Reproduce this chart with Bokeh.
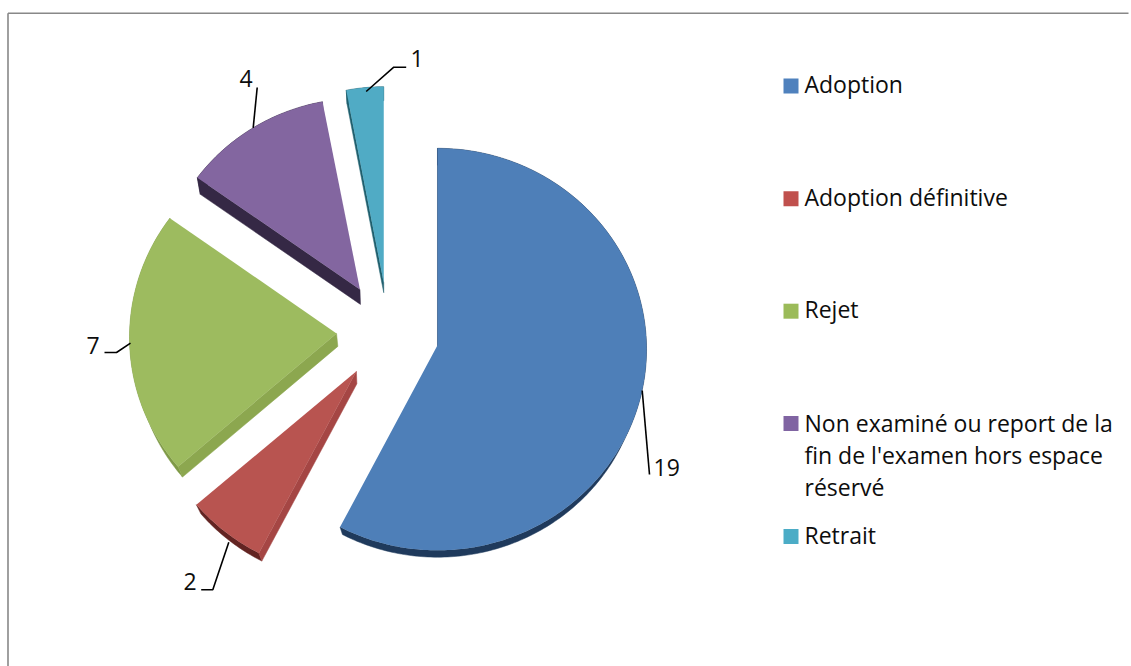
import math
from bokeh.plotting import figure
from bokeh.embed import file_html
from bokeh.resources import INLINE
from bokeh.core.properties import value

# ---- data
categories = ["Adoption", "Adoption définitive", "Rejet",
              "Non examiné ou report de la fin de l'examen hors espace réservé", "Retrait"]
values = [19, 2, 7, 4, 1]
legend_lines = [["Adoption"], ["Adoption définitive"], ["Rejet"],
                ["Non examiné ou report de la", "fin de l'examen hors espace", "réservé"], ["Retrait"]]

# ---- style
top_colors = ["#4e7fb8", "#b85450", "#9dbb5f", "#8366a0", "#50abc5"]
key_colors = ["#4f81bd", "#c0504d", "#9bbb59", "#8064a2", "#4bacc6"]
rim_colors = ["#1f3a5c", "#632422", "#7f9a47", "#352845", "#20606f"]
side_colors = ["#1f3a5c", "#a54644", "#8ca74f", "#352845", "#20606f"]
radius_x = [209, 209, 207, 202, 202]
radius_y = [201, 201, 201, 195, 200]
nudge_x = [0.4, -1.2, -2, -1.5, 0]
nudge_y = [1, -0.5, -1.5, -1, 0]
depth_x = [0, 0.5, 1.3, 0.5, 0]
depth_y = [12, 12.5, 13, 15, 10]
shrink = [0.975, 0.975, 0.98, 0.985, 0.98]
PERSPECTIVE = 0.02
CX, CY, EXPLODE = 388, 332, 50
FONT = "Open Sans"
FS = "23px"

p = figure(width=1131, height=666, x_range=(0, 1131), y_range=(666, 0),
           output_backend="svg", toolbar_location=None, min_border=0,
           outline_line_color=None, background_fill_color="white")
p.axis.visible = False
p.grid.visible = False

p.line([7.5, 7.5], [666, 12.7], line_color="#888888", line_width=1.6)
p.line([7.5, 1128], [12.7, 12.7], line_color="#888888", line_width=1.6)

total = sum(values)
start = 0.0
for i, v in enumerate(values):
    a0 = start / total * 2 * math.pi
    a1 = (start + v) / total * 2 * math.pi
    mid = (a0 + a1) / 2
    ax = CX + EXPLODE * math.sin(mid) + nudge_x[i]
    ay = CY - EXPLODE * math.cos(mid) + nudge_y[i]
    n = max(8, int(v * 12))
    th = [a0 + (a1 - a0) * k / n for k in range(n + 1)]
    sc = [1 - PERSPECTIVE * math.cos(t) for t in th]
    tx = [ax + s * radius_x[i] * math.sin(t) for s, t in zip(sc, th)]
    ty = [ay - s * radius_y[i] * math.cos(t) for s, t in zip(sc, th)]
    bax, bay = ax + depth_x[i], ay + depth_y[i]
    bx = [bax + shrink[i] * s * radius_x[i] * math.sin(t) for s, t in zip(sc, th)]
    by = [bay - shrink[i] * s * radius_y[i] * math.cos(t) for s, t in zip(sc, th)]
    # extruded rim and the radial side that starts the slice
    p.patch(tx + bx[::-1], ty + by[::-1], fill_color=rim_colors[i], line_color=rim_colors[i], line_width=0.5)
    p.patch([ax, tx[0], bx[0], bax], [ay, ty[0], by[0], bay], fill_color=side_colors[i],
            line_color=side_colors[i], line_width=0.5)
    p.patch([ax] + tx, [ay] + ty, fill_color=top_colors[i], line_color=None)
    start += v

# leader lines
leaders = [([641.7, 649], [390, 474]),
           ([228.3, 212.3, 200.7], [541.7, 589.3, 589.3]),
           ([130, 116, 104], [342.7, 352, 352]),
           ([252.7, 256.7], [127.3, 87]),
           ([365.7, 393.3, 405.7], [91, 66.7, 66.7])]
label_x = [653, 183, 86, 239, 410]
label_y = [475, 589, 353, 86, 66]
for lx, ly in leaders:
    p.line(lx, ly, line_color="black", line_width=1.6)
p.text(label_x, label_y, text=[str(v) for v in values], text_font=value(FONT), text_font_size=value(FS),
       y_offset=-8, text_color="#0d0d0d", text_baseline="alphabetic", text_align="left")

# legend
key_y = [85.5, 198.3, 310.7, 423, 536]
base_y = [[91.5], [204.7], [316.5], [430.7, 462, 494], [542]]
for i in range(len(categories)):
    p.rect([790.5], [key_y[i]], width=15, height=15, fill_color=key_colors[i], line_color=None)
    p.text([804] * len(legend_lines[i]), base_y[i], text=legend_lines[i], text_font=value(FONT),
           y_offset=-8, text_font_size=value(FS), text_color="#0d0d0d", text_baseline="alphabetic",
           text_align="left")

open("out.html", "w").write(file_html(p, INLINE))
